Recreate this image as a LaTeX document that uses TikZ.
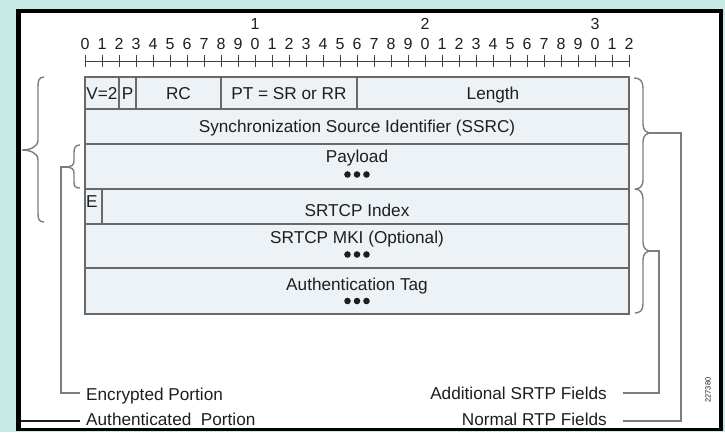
\documentclass[tikz,border=0pt]{standalone}
\usepackage{fontspec}
\setmainfont{Liberation Sans}
\definecolor{bgteal}{RGB}{200,234,228}
\definecolor{cellfill}{RGB}{237,242,246}
\definecolor{lin}{RGB}{105,105,105}
\definecolor{brc}{RGB}{125,125,125}
\definecolor{txt}{RGB}{30,30,30}
\tikzset{
  lbl/.style={anchor=base, text=txt, font=\fontsize{17.2}{18}\selectfont, inner sep=0pt},
  lbll/.style={lbl, anchor=base west},
  lblr/.style={lbl, anchor=base east},
  dig/.style={anchor=base, text=txt, font=\fontsize{16}{17}\selectfont, inner sep=0pt},
  cellline/.style={draw=lin, line width=1.3pt},
  rul/.style={draw=txt!85, line width=0.9pt},
  brcpath/.style={draw=brc, line width=1.4pt},
  legline/.style={draw=brc, line width=1.4pt},
  dotmark/.style={fill=txt},
}
\newcommand{\dotrow}[2]{%
  \fill[dotmark] (#1-9.5,#2) circle [radius=3.3pt];
  \fill[dotmark] (#1,#2) circle [radius=3.3pt];
  \fill[dotmark] (#1+9.5,#2) circle [radius=3.3pt];}
\begin{document}
\begin{tikzpicture}[x=1pt,y=-1pt]
\useasboundingbox (0,0) rectangle (725,432);
% background and frame
\fill[bgteal] (0,0) rectangle (725,432);
\fill[black] (16,9) rectangle (723,431);
\fill[white] (21,13) rectangle (719,428);
% ruler
\foreach \i in {0,...,32} {
  \pgfmathtruncatemacro\d{mod(\i,10)}
  \node[dig] (d\i) at (85+17*\i,49) {\d};
  \draw[rul] (85+17*\i,55) -- (85+17*\i,67);
}
\node[dig] (t1) at (255,29.5) {1};
\node[dig] (t2) at (425,29.5) {2};
\node[dig] (t3) at (595,29.5) {3};
\draw[rul] (85,61) -- (629,61);
% table
\fill[cellfill] (85,77) rectangle (629,314);
\draw[cellline] (85,77) rectangle (629,314);
\foreach \y in {109,144,189,224,268} \draw[cellline] (85,\y) -- (629,\y);
\foreach \x in {119,136,221,357} \draw[cellline] (\x,77) -- (\x,109);
\draw[cellline] (102,189) -- (102,224);
% cell texts
\node[lbl] (v) at (102,99) {V=2};
\node[lbl] (p) at (127.5,99) {P};
\node[lbl] (rc) at (178.5,99) {RC};
\node[lbl] (pt) at (289,99) {PT = SR or RR};
\node[lbl] (len) at (493,99) {Length};
\node[lbl] (ssrc) at (357,132.5) {Synchronization Source Identifier (SSRC)};
\node[lbl] (pay) at (357,162.5) {Payload};
\dotrow{357}{174.5}
\node[lbll] (e) at (86,207) {E};
\node[lbl] (idx) at (357,216) {SRTCP Index};
\node[lbl] (mki) at (357,243) {SRTCP MKI (Optional)};
\dotrow{357}{254.5}
\node[lbl] (auth) at (357,290.5) {Authentication Tag};
\dotrow{357}{301}
% legend texts
\node[lbll] (enc) at (86,400) {Encrypted Portion};
\node[lbll] (aut) at (86,425.5) {Authenticated\ \ Portion};
\node[lblr] (add) at (607,399.5) {Additional SRTP Fields};
\node[lblr] (nrm) at (607,425.5) {Normal RTP Fields};
\node[rotate=90, text=txt, font=\fontsize{7.5}{8}\selectfont, inner sep=0pt] (fig) at (708,390) {227380};
% left outer brace (authenticated)
\coordinate (authtip) at (22,150);
\draw[brcpath] (44,77) .. controls (38,77) and (38,82) .. (38,88) -- (38,140)
  .. controls (38,147) and (30,150) .. (authtip)
  .. controls (30,150) and (38,153) .. (38,160) -- (38,212)
  .. controls (38,218) and (38,222) .. (44,222);
\coordinate (autend) at (21,421);
\draw[line width=1.4pt, draw=txt] (autend) -- ([xshift=-6pt]aut.west |- autend);
% left inner brace (encrypted)
\coordinate (enctip) at (68,167);
\draw[brcpath] (80,145) .. controls (75,145) and (74,148) .. (74,153) -- (74,161)
  .. controls (74,165) and (71,167) .. (enctip)
  .. controls (71,167) and (74,169) .. (74,173) -- (74,182)
  .. controls (74,186) and (75,188) .. (80,188);
\coordinate (enccorner) at (61,393);
\draw[legline] (enctip) -- (61,167) -- (enccorner) -- (80,393);
% right brace 1 (normal RTP)
\coordinate (nrmtip) at (651,133);
\draw[brcpath] (634,78) .. controls (640,78) and (643,81) .. (643,88) -- (643,124)
  .. controls (643,130) and (646,133) .. (nrmtip)
  .. controls (646,133) and (643,136) .. (643,142) -- (643,180)
  .. controls (643,186) and (640,189) .. (635,189);
% right brace 2 (additional SRTP)
\coordinate (addtip) at (651,251);
\draw[brcpath] (635,189) .. controls (640,189) and (643,193) .. (643,199) -- (643,242)
  .. controls (643,248) and (646,251) .. (addtip)
  .. controls (646,251) and (643,254) .. (643,260) -- (643,304)
  .. controls (643,310) and (640,313) .. (635,313);
\coordinate (nrmcorner) at (681,421);
\coordinate (addcorner) at (659,393);
\draw[legline] (nrmtip) -- (681,133) -- (nrmcorner) -- (623,421);
\draw[legline] (addtip) -- (659,251) -- (addcorner) -- (623,393);
\end{tikzpicture}
\end{document}
